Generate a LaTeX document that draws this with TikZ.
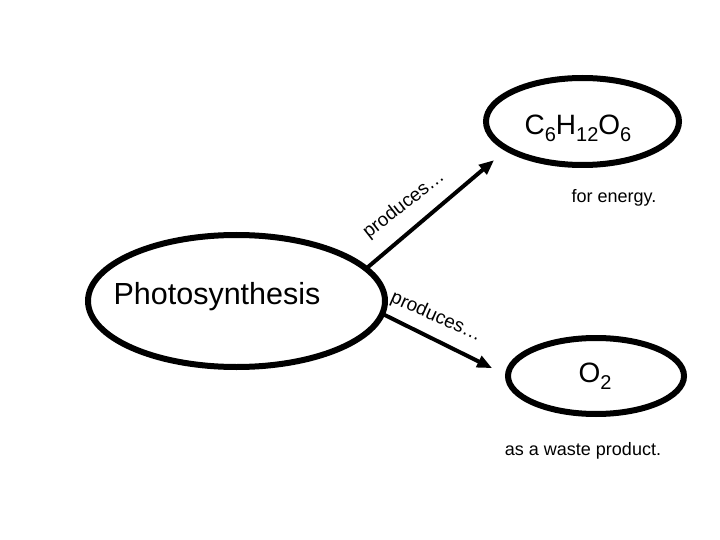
\documentclass[tikz,border=0pt]{standalone}
\usepackage{fontspec}
\setmainfont{Liberation Sans}
\usetikzlibrary{positioning,arrows.meta,shapes.geometric}
\newcommand{\chsub}[1]{\raisebox{-0.25em}{\fontsize{20}{20}\selectfont #1}}

\begin{document}
\begin{tikzpicture}[x=1pt, y=-1pt, >={Triangle[length=15pt,width=12pt]},
  bubble/.style={draw, ellipse, line width=6pt, inner sep=0pt, outer sep=0pt},
  chem/.style={anchor=base, inner sep=0pt, font=\fontsize{28}{28}\selectfont},
  note/.style={anchor=base, inner sep=0pt, font=\fontsize{18}{18}\selectfont},
  lnk/.style={->, line width=4pt},
]
  \useasboundingbox (0,0) rectangle (720,540);
  \node[bubble, minimum width=297pt, minimum height=132pt] (photo) at (236.5,301) {};
  \node[bubble, minimum width=193pt, minimum height=87pt] (gluc) at (582.5,121.5) {};
  \node[bubble, minimum width=176pt, minimum height=76pt] (oxy) at (596,376) {};
  \node[chem, font=\fontsize{30.5}{30.5}\selectfont] (photoname) at (217,304) {Photosynthesis};
  \node[chem] (glucname) at (578,135) {C\chsub{6}H\chsub{12}O\chsub{6}};
  \node[chem] (oxyname) at (595,382) {O\chsub{2}};
  \node[note] (energy) at (614,203) {for energy.};
  \node[note] (waste) at (583,455) {as a waste product.};
  \draw[lnk, shorten >=17.5pt] (photo.14) -- (gluc.200);
  \draw[lnk, shorten >=17.7pt] (photo.-5) -- (oxy.180);
  \node[note, anchor=center, rotate=38, font=\fontsize{19}{19}\selectfont] (produp) at (404,205) {produces…};
  \node[note, anchor=center, rotate=-24, font=\fontsize{19}{19}\selectfont] (proddown) at (436,317) {produces…};
\end{tikzpicture}
\end{document}
